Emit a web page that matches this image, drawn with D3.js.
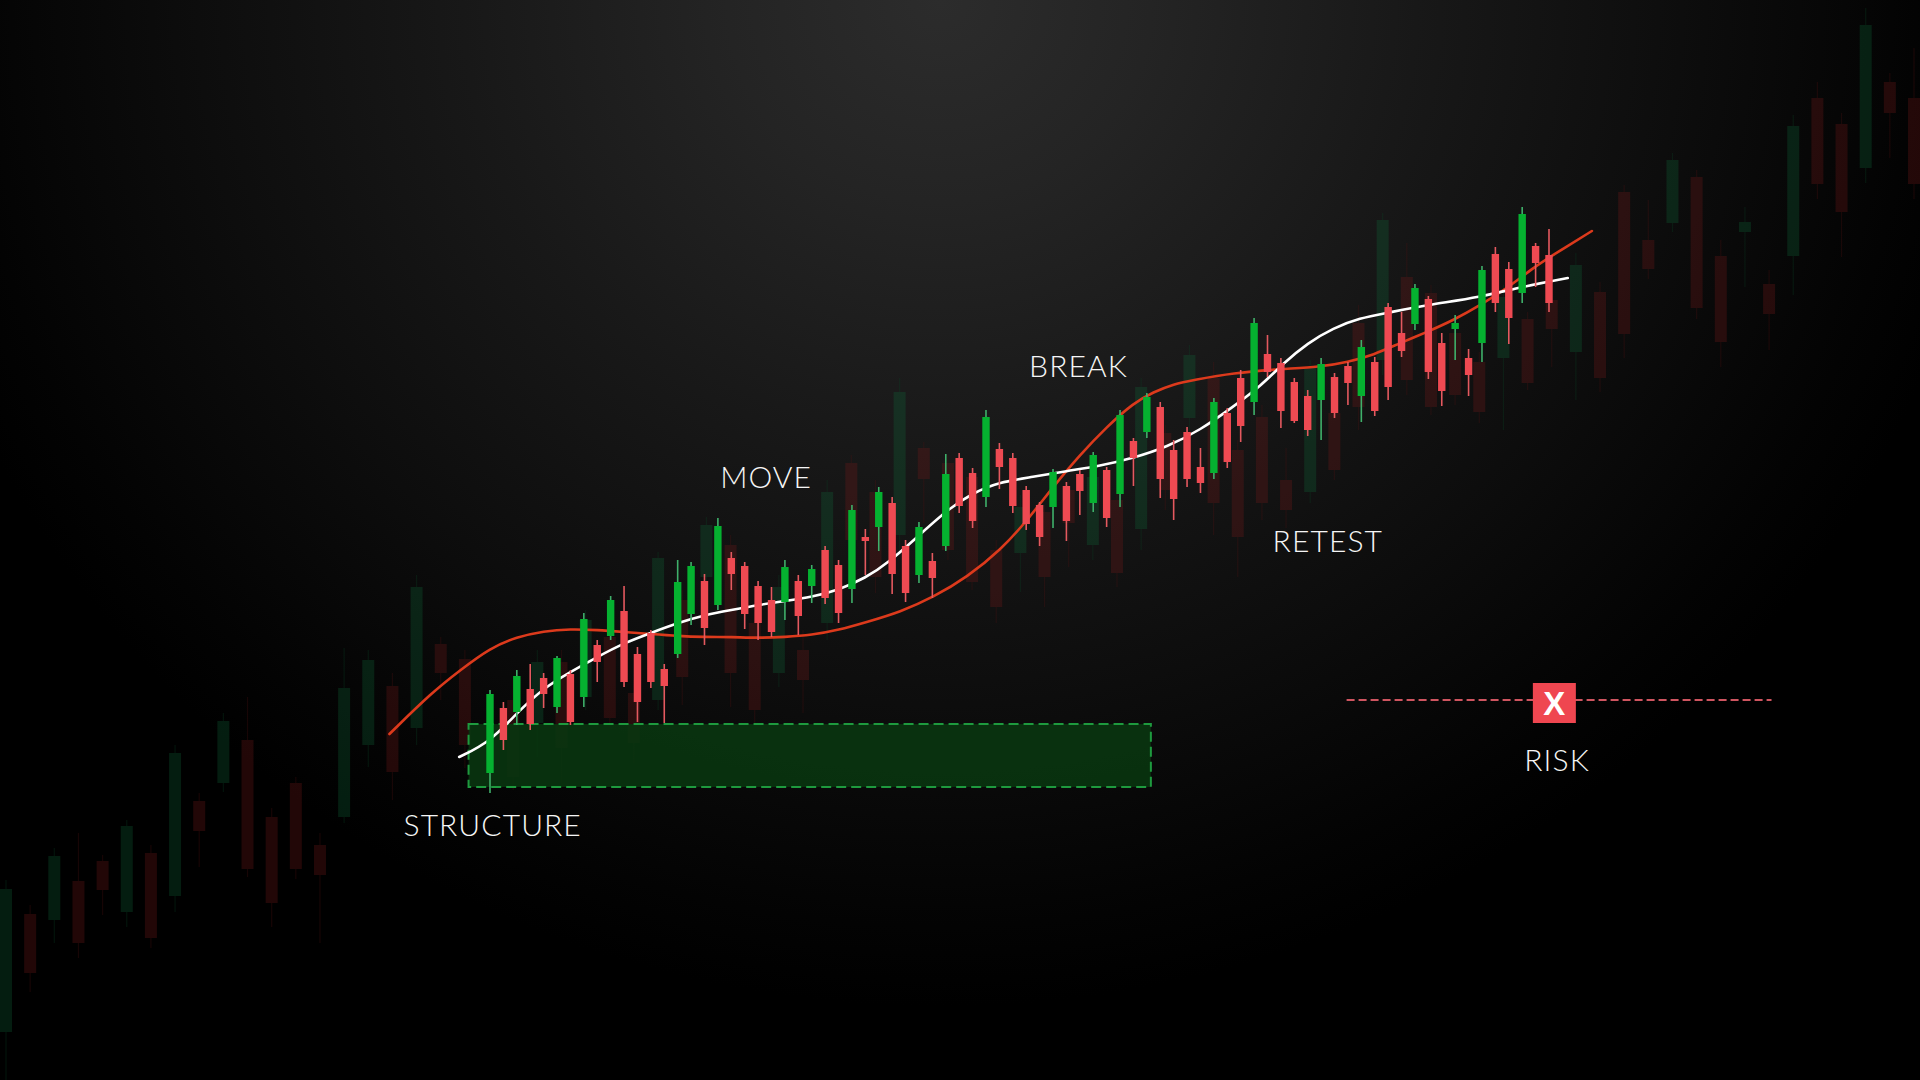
<!DOCTYPE html>
<html>
<head>
<meta charset="utf-8">
<script src="https://cdn.jsdelivr.net/npm/d3@7"></script>
<style>
html,body{margin:0;padding:0;background:#000;overflow:hidden}
svg{display:block}
text{font-family:Lato,"Open Sans",sans-serif;font-weight:300;fill:#f6f6f6}
</style>
</head>
<body>
<svg id="chart" width="1920" height="1080"></svg>
<script>
// Foreground session (bright candles)
const mainDir = ("GRGRRGRGRG"+"RRRRGGRGRR"+"RRGRGRRGRG"+"RRGRGRRGRR"+"RRGRRGRGRG"+"RRRRGRRGRR"+"RRGRRGRRRG"+"RRGRGRRGRR").split("");
const mainHigh = [390,378,410,416,407,424,410,467,440,484,494,433,450,416,520,518,506,562,528,518,499,493,520,505,515,534,520,575,551,593,583,540,558,527,626,627,612,670,637,627,594,578,611,598,610,628,613,670,642,687,678,640,653,632,682,672,710,762,745,722,702,690,722,707,718,740,723,777,768,796,784,747,765,731,814,833,818,873,837,851];
const mainBodyTop = [386,372,404,391,402,422,406,461,435,480,469,426,447,411,498,514,499,554,522,514,494,480,513,499,511,530,515,570,543,588,577,534,553,519,606,622,607,663,631,622,590,575,608,594,606,625,610,665,639,683,673,630,648,613,678,667,702,757,726,717,698,684,716,703,714,733,718,773,747,792,781,737,757,722,810,826,811,866,834,825];
const mainBodyBot = [307,340,368,356,386,373,358,383,418,444,398,378,398,394,426,466,452,475,506,466,457,448,478,464,494,482,467,491,539,553,506,487,505,502,534,574,559,583,613,574,556,543,573,559,589,577,562,586,622,648,601,581,601,597,607,618,654,678,708,669,659,650,680,667,697,684,669,693,729,756,708,689,751,705,737,777,762,787,817,777];
const mainLow = [287,330,355,350,372,367,355,373,398,440,393,358,392,357,422,455,435,470,490,451,440,443,460,445,477,476,457,477,505,529,486,478,497,482,529,567,552,573,591,567,550,534,552,539,565,568,553,573,594,642,582,560,593,587,601,612,638,665,703,652,657,644,640,662,675,658,664,680,723,750,701,674,720,684,718,768,736,777,793,768];

// Background session (faint candles); null where no candle shows
const bgDir = ("GRGRRGRGRG"+"RRRRGGRGRR"+"-RGRGRRGRG"+"RRGRGRRGRR"+"RRGRRGRGRG"+"RRRRGRRGRR"+"RRGRRGRRRG"+"RRGRGRRGRR").split("");
const bgHigh = [200,175,232,247,225,260,235,335,287,367,383,272,303,247,432,430,407,505,443,430,null,400,430,430,470,455,400,528,490,563,545,468,505,450,600,625,600,702,638,625,610,540,585,575,600,615,590,702,655,735,718,640,675,632,720,675,775,867,837,795,755,728,795,768,790,827,798,895,880,927,910,840,873,810,965,998,967,1072,1007,1032];
const bgBodyTop = [191,166,224,199,219,254,227,327,279,359,340,263,297,235,392,420,394,493,436,421,null,380,418,418,460,443,387,522,480,555,535,457,493,430,588,617,588,688,632,617,603,530,573,568,590,603,580,693,647,725,702,630,663,600,712,667,757,860,803,787,747,718,783,761,780,815,788,888,840,920,903,824,858,796,954,982,956,1055,998,982];
const bgBodyBot = [48,107,160,137,190,168,142,184,249,297,211,177,211,205,263,335,308,352,407,335,null,303,357,332,383,362,337,380,403,503,407,370,407,400,457,540,503,545,601,530,498,473,527,503,557,535,507,551,590,662,577,543,577,570,588,610,673,720,700,673,685,668,722,697,751,728,702,746,811,857,772,738,848,766,824,896,868,912,967,896];
const bgLow = [0,88,137,122,165,153,132,168,213,288,203,153,201,137,257,313,280,335,380,312,null,290,323,297,370,355,317,370,375,490,373,357,393,367,440,520,487,525,557,520,490,457,488,473,513,520,493,530,570,650,545,503,560,552,577,600,650,705,685,665,675,657,650,690,713,680,688,722,801,848,761,713,793,730,785,881,823,897,922,881];

// Moving averages, sampled in bar units of the foreground session
const whiteT = [-2.3,0,2,4,6,8,10,12,14,16,18,20,22,24,26,28,29.7,32.2,34.1,36,38,40.5,43,45.5,48,50.5,53,55.4,57.5,59.2,61,62.9,64.9,66.9,69.9,73.9,76.9,80.4];
const whiteV = [323,338,367,392,408,423,437,447,457,465,470,475,479,483,490,502,517,547,570,587,598,603,609,614,622,633,650,673,694,717,737,752,762,767,775,783,793,802];
const redT = [-7.5,-4.3,-2.2,0,2,4,6,8,10,12,14,16,18,20,22,24,26,28.1,30.6,33.1,35.6,38.1,40.1,42,44,46,48,49.5,51,52.5,55.4,59,61.9,64,65.9,67.9,69.9,71.9,73.9,75.9,77.8,79.3,82.2];
const redV = [346,388,410,432,443,449,451,450,448,446,444,443,443,442,443,445,450,458,468,483,503,530,560,593,625,653,677,688,696,700,707,711,713,718,725,737,748,760,775,792,812,825,849];

// Annotations
const labels = ["STRUCTURE","MOVE","BREAK","RETEST","RISK"];
const labelT = [0.2,20.6,43.9,62.5,79.6];
const labelV = [244,592,703,528,309];
const demandT = [-1.6,49.3];
const demandV = [356,293];
const riskT = [63.9,95.6];
const riskV = 380;
const riskMarkT = 79.4;
const riskMark = "X";

const W = 1920, H = 1080;
const svg = d3.select("#chart");
const x = d3.scaleLinear().domain([0,79]).range([490,1549]);
const xBg = d3.scaleLinear().domain([0,79]).range([6,1914]);
const y = d3.scaleLinear().domain([0,1080]).range([1080,0]);

const defs = svg.append("defs");
const grad = defs.append("radialGradient").attr("id","bg").attr("gradientUnits","userSpaceOnUse")
  .attr("cx",940).attr("cy",0).attr("r",1060)
  .attr("gradientTransform","translate(940,0) scale(1,0.95) translate(-940,0)");
[[0,"#2c2c2c"],[0.2,"#242424"],[0.45,"#181818"],[0.7,"#0d0d0d"],[0.92,"#030303"],[1,"#000"]]
  .forEach(([o,c])=>grad.append("stop").attr("offset",o).attr("stop-color",c));
svg.append("rect").attr("width",W).attr("height",H).attr("fill","url(#bg)");

function candles(cls, xs, dir, hi, top, bot, lo, bodyW, wickW, col, wickCol, op){
  const data = d3.range(dir.length).filter(i=>hi[i]!=null);
  const g = svg.append("g").attr("class",cls).attr("opacity",op);
  g.selectAll("line").data(data).join("line")
    .attr("x1",i=>xs(i)).attr("x2",i=>xs(i))
    .attr("y1",i=>y(hi[i])).attr("y2",i=>y(lo[i]))
    .attr("stroke",i=>wickCol[dir[i]]).attr("stroke-width",wickW);
  g.selectAll("rect").data(data).join("rect")
    .attr("x",i=>xs(i)-bodyW/2).attr("width",bodyW)
    .attr("y",i=>y(top[i])).attr("height",i=>y(bot[i])-y(top[i]))
    .attr("fill",i=>col[dir[i]]);
}

candles("bg",xBg,bgDir,bgHigh,bgBodyTop,bgBodyBot,bgLow,12,1.2,
  {G:"#0f6a3a",R:"#7a1a1a"},{G:"#0a4526",R:"#521212"},0.28);

svg.append("rect").attr("class","zone")
  .attr("x",x(demandT[0])).attr("width",x(demandT[1])-x(demandT[0]))
  .attr("y",y(demandV[0])).attr("height",y(demandV[1])-y(demandV[0]))
  .attr("fill","#093510").attr("fill-opacity",0.9)
  .attr("stroke","#1e9a3e").attr("stroke-width",2).attr("stroke-dasharray","10 5");

const line = d3.line().curve(d3.curveBasis).x(d=>x(d[0])).y(d=>y(d[1]));
svg.append("path").datum(redT.map((t,i)=>[t,redV[i]])).attr("d",line)
  .attr("fill","none").attr("stroke","#dc3a1c").attr("stroke-width",2.6).attr("stroke-linecap","round");
svg.append("path").datum(whiteT.map((t,i)=>[t,whiteV[i]])).attr("d",line)
  .attr("fill","none").attr("stroke","#fff").attr("stroke-width",2.6).attr("stroke-linecap","round");

candles("main",x,mainDir,mainHigh,mainBodyTop,mainBodyBot,mainLow,7.4,1.6,
  {G:"#05b130",R:"#ee4a52"},{G:"#3fb06a",R:"#e4595f"},1);

// risk line and marker
svg.append("line").attr("x1",x(riskT[0])).attr("x2",x(riskT[1]))
  .attr("y1",y(riskV)).attr("y2",y(riskV))
  .attr("stroke","#cf5560").attr("stroke-width",2).attr("stroke-dasharray","8 4");
const mx = x(riskMarkT);
svg.append("rect").attr("x",mx-21.5).attr("width",43).attr("y",y(riskV)-17).attr("height",40).attr("fill","#ef4650");
svg.append("text").attr("x",mx).attr("y",y(riskV)+15).attr("text-anchor","middle")
  .style("font-family","'Liberation Sans',sans-serif").style("font-weight",700).style("fill","#fff").style("font-size","33px").text(riskMark);

svg.selectAll("text.lbl").data(labels).join("text").attr("class","lbl")
  .attr("x",(d,i)=>x(labelT[i])).attr("y",(d,i)=>y(labelV[i]))
  .attr("text-anchor","middle").style("font-size","30px").style("letter-spacing","1.1px").text(d=>d);
</script>
</body>
</html>
